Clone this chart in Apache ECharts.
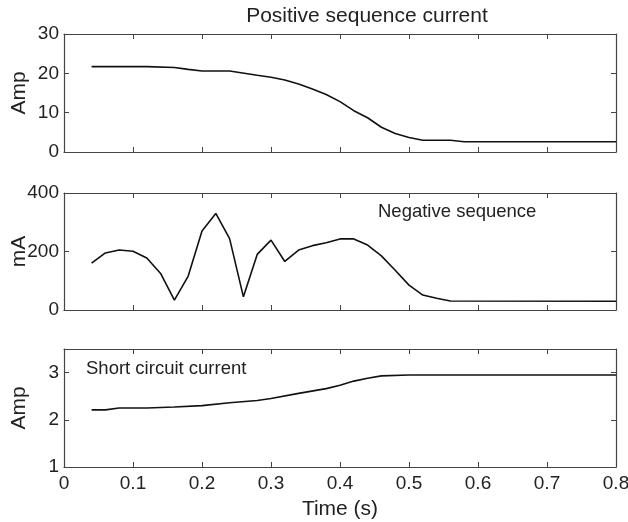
<!DOCTYPE html>
<html>
<head>
<meta charset="utf-8">
<script src="https://cdn.jsdelivr.net/npm/echarts@6/dist/echarts.min.js"></script>
<style>html,body{margin:0;padding:0;background:#fff}#c{width:628px;height:522px}</style>
</head>
<body>
<div id="c"></div>
<script>
// Positive sequence current (Amp)
var tPos = [0.04,0.12,0.16,0.18,0.20,0.24,0.28,0.30,0.32,0.34,0.36,0.38,0.40,0.42,0.44,0.46,0.48,0.50,0.52,0.56,0.58,0.80];
var vPos = [21.7,21.7,21.5,21.0,20.6,20.6,19.5,19.0,18.3,17.3,16.0,14.6,12.8,10.5,8.7,6.3,4.7,3.7,3.0,3.0,2.6,2.6];
// Negative sequence (mA)
var tNeg = [0.04,0.06,0.08,0.10,0.12,0.14,0.16,0.18,0.20,0.22,0.24,0.26,0.28,0.30,0.32,0.34,0.36,0.38,0.40,0.42,0.44,0.46,0.48,0.50,0.52,0.54,0.56,0.80];
var vNeg = [160,195,205,201,178,125,34,116,270,330,244,45,190,239,166,205,220,230,243,243,222,185,136,85,51,40,31,30];
// Short circuit current (Amp)
var tSc = [0.04,0.06,0.08,0.12,0.16,0.20,0.24,0.28,0.30,0.34,0.38,0.40,0.42,0.44,0.46,0.50,0.80];
var vSc = [2.21,2.21,2.25,2.25,2.27,2.30,2.36,2.41,2.45,2.56,2.66,2.73,2.82,2.88,2.93,2.95,2.95];
// Axis settings
var xTicks = {min:0, max:0.8, interval:0.1};
var yPos = {min:0, max:30, interval:10};
var yNeg = {min:0, max:400, interval:200};
var ySc = {min:1, max:3.5, interval:1};

function zip(t, v){ return t.map(function(x,i){ return [x, v[i]]; }); }

var FONT = "'Liberation Sans', Arial, sans-serif";
var FRAME = '#444';
var labelStyle = {color:'#222', fontSize:19, fontFamily:FONT};

var grids = [
  {left:64, right:12, top:34, height:118, outerBoundsMode:'none', containLabel:false},
  {left:64, right:12, top:193, height:117, outerBoundsMode:'none', containLabel:false},
  {left:64, right:12, top:349, height:118, outerBoundsMode:'none', containLabel:false}
];

var xAxes = [], yAxes = [];
var yConf = [yPos, yNeg, ySc];
var yNames = ['Amp','mA','Amp'];
for (var g=0; g<3; g++){
  ['bottom','top'].forEach(function(pos){
    var showLab = (g===2 && pos==='bottom');
    xAxes.push({
      type:'value', gridIndex:g, position:pos,
      min:xTicks.min, max:xTicks.max, interval:xTicks.interval,
      axisLine:{show:true, onZero:false, lineStyle:{color:FRAME, width:1.2}},
      axisTick:{show:true, inside:true, length:5, lineStyle:{color:FRAME}},
      axisLabel:Object.assign({show:showLab, margin:7, formatter:function(v){return v===0?'0':String(+v.toFixed(1));}}, labelStyle),
      splitLine:{show:false},
      name: showLab ? 'Time (s)' : '',
      nameLocation:'middle', nameGap:32, nameMoveOverlap:false,
      nameTextStyle:{color:'#222', fontSize:21, fontFamily:FONT}
    });
  });
  ['left','right'].forEach(function(pos){
    var c = yConf[g];
    var isLeft = pos==='left';
    yAxes.push({
      type:'value', gridIndex:g, position:pos,
      min:c.min, max:c.max, interval:c.interval,
      axisLine:{show:true, onZero:false, lineStyle:{color:FRAME, width:1.2}},
      axisTick:{show:true, inside:true, length:5, lineStyle:{color:FRAME}},
      axisLabel:Object.assign({show:isLeft, margin:5, showMaxLabel: g===2 ? false : true}, labelStyle),
      splitLine:{show:false},
      name: isLeft ? yNames[g] : '',
      nameLocation:'middle', nameGap:34, nameRotate:90, nameMoveOverlap:false,
      nameTextStyle:{color:'#222', fontSize:21, fontFamily:FONT}
    });
  });
}

var series = [
  {type:'line', xAxisIndex:0, yAxisIndex:0, data:zip(tPos, vPos)},
  {type:'line', xAxisIndex:2, yAxisIndex:2, data:zip(tNeg, vNeg)},
  {type:'line', xAxisIndex:4, yAxisIndex:4, data:zip(tSc, vSc)}
].map(function(s){
  return Object.assign(s, {showSymbol:false, symbol:'none', silent:true,
    lineStyle:{color:'#111', width:1.6}, animation:false});
});

var chart = echarts.init(document.getElementById('c'), null, {renderer:'canvas'});
chart.setOption({
  backgroundColor:'#fff',
  animation:false,
  grid:grids,
  xAxis:xAxes,
  yAxis:yAxes,
  series:series,
  graphic:[
    {type:'text', x:367, y:16, style:{text:'Positive sequence current', fontSize:21, fontFamily:FONT, fill:'#222', textAlign:'center', textVerticalAlign:'middle'}},
    {type:'text', x:378, y:212, style:{text:'Negative sequence', fontSize:18.5, fontFamily:FONT, fill:'#222', textAlign:'left', textVerticalAlign:'middle'}},
    {type:'text', x:86, y:369, style:{text:'Short circuit current', fontSize:18.5, fontFamily:FONT, fill:'#222', textAlign:'left', textVerticalAlign:'middle'}}
  ]
});
</script>
</body>
</html>
